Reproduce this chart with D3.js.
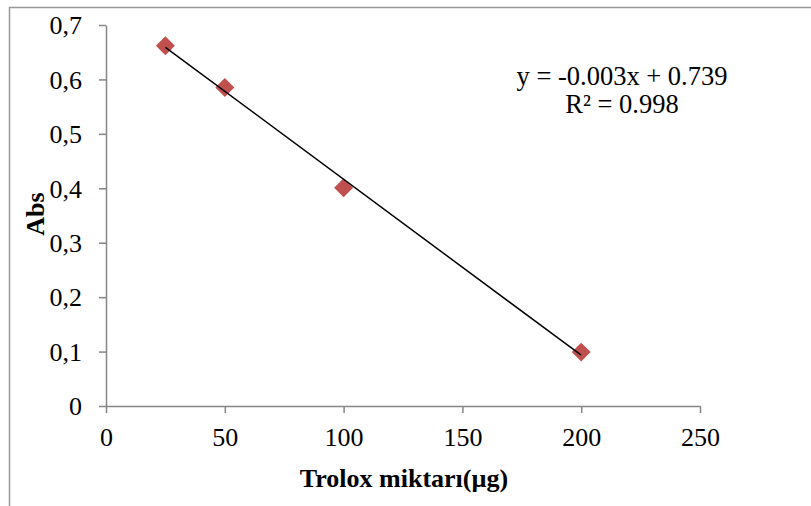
<!DOCTYPE html>
<html>
<head>
<meta charset="utf-8">
<script src="https://cdn.jsdelivr.net/npm/d3@7"></script>
<style>
  body { margin: 0; background: #fff; }
  text { font-family: "Liberation Serif", "Times New Roman", serif; }
</style>
</head>
<body>
<div id="chart"></div>
<script>
// data
let trolox = [25, 50, 100, 200];
let abs = [0.662, 0.585, 0.401, 0.099];
let xTicks = [0, 50, 100, 150, 200, 250];
let yTicks = [0, 0.1, 0.2, 0.3, 0.4, 0.5, 0.6, 0.7];
let equationLines = ["y = -0.003x + 0.739", "R² = 0.998"];

let W = 811, H = 506;
let margin = {top: 25, left: 106, right: 111, bottom: 100};

let svg = d3.select("#chart").append("svg")
    .attr("width", W)
    .attr("height", H);

// outer frame (only left and top edges fall inside the picture)
svg.append("path")
    .attr("d", "M9.5," + H + "V7.5H" + W)
    .attr("fill", "none")
    .attr("stroke", "#999")
    .attr("stroke-width", 1.5);

let x = d3.scaleLinear()
    .domain([0, 250])
    .range([margin.left, W - margin.right]);

let y = d3.scaleLinear()
    .domain([0, 0.7])
    .range([H - margin.bottom, margin.top]);

let fmt = d => d3.format(".1f")(d).replace(".", ",").replace(/^0,0$/, "0");

// axes
let xAxis = svg.append("g")
    .attr("transform", "translate(0," + y(0) + ")")
    .call(d3.axisBottom(x).tickValues(xTicks).tickSize(7).tickPadding(15).tickSizeOuter(0));

let yAxis = svg.append("g")
    .attr("transform", "translate(" + x(0) + ",0)")
    .call(d3.axisLeft(y).tickValues(yTicks).tickSize(7).tickPadding(17).tickFormat(fmt).tickSizeOuter(0));

[xAxis, yAxis].forEach(a => {
    a.select(".domain").attr("stroke", "#868686").attr("stroke-width", 1.5);
    a.selectAll(".tick line").attr("stroke", "#868686").attr("stroke-width", 1.5);
    a.selectAll(".tick text")
        .attr("fill", "#000")
        .attr("font-size", 26)
        .attr("font-family", "Liberation Serif");
});
yAxis.selectAll(".tick text").attr("dy", "0.34em");

// linear trend by least squares
let mx = d3.mean(trolox), my = d3.mean(abs);
let slope = d3.sum(trolox, (d, i) => (d - mx) * (abs[i] - my)) / d3.sum(trolox, d => (d - mx) * (d - mx));
let icpt = my - slope * mx;
let xr = d3.extent(trolox);

// markers
let points = trolox.map((d, i) => ({x: d, y: abs[i]}));
svg.selectAll(".pt")
    .data(points)
    .enter().append("path")
    .attr("class", "pt")
    .attr("d", d3.symbol(d3.symbolSquare, 180))
    .attr("transform", d => "translate(" + x(d.x) + "," + y(d.y) + ") rotate(45)")
    .attr("fill", "#c0504d");

svg.append("line")
    .attr("x1", x(xr[0])).attr("y1", y(slope * xr[0] + icpt))
    .attr("x2", x(xr[1])).attr("y2", y(slope * xr[1] + icpt))
    .attr("stroke", "#000")
    .attr("stroke-width", 1.5);

// equation label
svg.selectAll(".eq")
    .data(equationLines)
    .enter().append("text")
    .attr("class", "eq")
    .attr("x", 622)
    .attr("y", (d, i) => 85 + i * 28)
    .attr("text-anchor", "middle")
    .attr("font-size", 26.5)
    .text(d => d);

// axis titles
svg.append("text")
    .attr("x", 404)
    .attr("y", 487)
    .attr("text-anchor", "middle")
    .attr("font-size", 26)
    .attr("font-weight", "bold")
    .text("Trolox miktarı(µg)");

svg.append("text")
    .attr("transform", "translate(44,214) rotate(-90)")
    .attr("text-anchor", "middle")
    .attr("font-size", 26)
    .attr("font-weight", "bold")
    .text("Abs");
</script>
</body>
</html>
